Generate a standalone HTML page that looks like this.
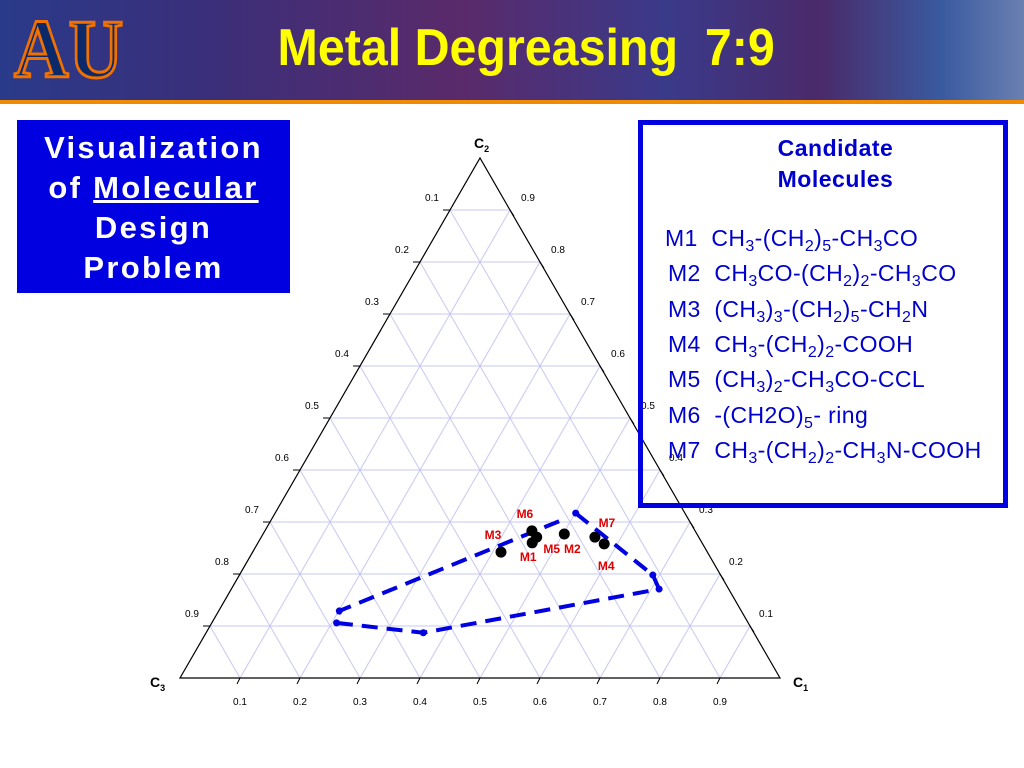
<!DOCTYPE html>
<html><head><meta charset="utf-8">
<style>
body{margin:0;width:1024px;height:768px;overflow:hidden;background:#fff;font-family:"Liberation Sans",sans-serif;}
#hdr{position:absolute;left:0;top:0;width:1024px;height:100px;background:linear-gradient(90deg,#2a3a8a 0%,#3a2f7a 20%,#5a2a6a 45%,#3a3a8a 65%,#4a2a6a 80%,#3a5aa0 92%,#6a80b0 100%);}
#bar{position:absolute;left:0;top:100px;width:1024px;height:4px;background:#f08a00;}
#title{position:absolute;left:188px;top:18px;width:650px;text-align:center;font-weight:bold;font-size:52px;color:#ffff00;transform:scaleX(0.93);transform-origin:513px 0;}
#logo{position:absolute;left:14px;top:4px;font-family:"Liberation Serif",serif;font-weight:bold;font-size:84px;color:#0c2a6a;-webkit-text-stroke:3px #f07000;line-height:92px;transform:scaleX(0.9);transform-origin:0 0;}
#lbox{position:absolute;left:17px;top:120px;width:273px;height:173px;background:#0000e0;color:#fff;font-weight:bold;font-size:31px;letter-spacing:2.3px;text-align:center;line-height:40px;box-sizing:border-box;padding-top:8px;}
#rbox{position:absolute;left:638px;top:120px;width:370px;height:388px;border:5px solid #0000e0;box-sizing:border-box;color:#0000cc;}
#rbox .t{font-weight:bold;font-size:23px;text-align:center;line-height:31px;margin-top:8px;padding-left:25px;letter-spacing:0.5px;}
#rbox .l{position:absolute;left:25px;font-size:23px;letter-spacing:0.4px;white-space:nowrap;}
sub{font-size:16px;vertical-align:-5px;line-height:0;}
</style></head><body>
<div id="hdr"></div>
<div id="logo">AU</div>
<div id="title">Metal Degreasing&nbsp; 7:9</div>
<div id="bar"></div>
<svg id="chart" style="position:absolute;left:0;top:0" width="1024" height="768"></svg>
<div id="lbox">Visualization<br>of <u>Molecular</u><br>Design<br>Problem</div>
<div id="rbox">
<div class="t">Candidate<br>Molecules</div>
<div class="l" style="top:100px;left:22px">M1&nbsp; CH<sub>3</sub>-(CH<sub>2</sub>)<sub>5</sub>-CH<sub>3</sub>CO</div>
<div class="l" style="top:135px">M2&nbsp; CH<sub>3</sub>CO-(CH<sub>2</sub>)<sub>2</sub>-CH<sub>3</sub>CO</div>
<div class="l" style="top:171px">M3&nbsp; (CH<sub>3</sub>)<sub>3</sub>-(CH<sub>2</sub>)<sub>5</sub>-CH<sub>2</sub>N</div>
<div class="l" style="top:206px">M4&nbsp; CH<sub>3</sub>-(CH<sub>2</sub>)<sub>2</sub>-COOH</div>
<div class="l" style="top:241px">M5&nbsp; (CH<sub>3</sub>)<sub>2</sub>-CH<sub>3</sub>CO-CCL</div>
<div class="l" style="top:277px">M6&nbsp; -(CH2O)<sub>5</sub>- ring</div>
<div class="l" style="top:312px">M7&nbsp; CH<sub>3</sub>-(CH<sub>2</sub>)<sub>2</sub>-CH<sub>3</sub>N-COOH</div>
</div>
<script>
const ticks=[0.1,0.2,0.3,0.4,0.5,0.6,0.7,0.8,0.9];
const molNames=["M1","M2","M3","M4","M5","M6","M7"];
const molC1=[0.457,0.502,0.414,0.578,0.459,0.445,0.556];
const molC2=[0.26,0.277,0.242,0.258,0.271,0.283,0.271];
const regionC1=[0.501,0.689,0.713,0.362,0.208,0.201,0.482];
const regionC2=[0.317,0.198,0.171,0.087,0.106,0.129,0.302];
const X0=180,Y0=678,S=600,H=520;
function px(c1,c2){return X0+S*(c1+c2/2);}
function py(c2){return Y0-H*c2;}
const svg=document.getElementById('chart');const NS='http://www.w3.org/2000/svg';
function mk(t,a,txt){const e=document.createElementNS(NS,t);for(const k in a)e.setAttribute(k,a[k]);if(txt!==undefined)e.textContent=txt;svg.appendChild(e);return e;}
ticks.forEach(t=>{
 let g=mk('line',{x1:px(0,t),y1:py(t),x2:px(1-t,t),y2:py(t),stroke:'#c8c8f0','stroke-width':1});
 
 g=mk('line',{x1:px(t,0),y1:py(0),x2:px(t,1-t),y2:py(1-t),stroke:'#c8c8f0','stroke-width':1});
 
 g=mk('line',{x1:px(t,0),y1:py(0),x2:px(0,t),y2:py(t),stroke:'#c8c8f0','stroke-width':1});
 
});
let tri=mk('polygon',{points:`${px(0,0)},${py(0)} ${px(1,0)},${py(0)} ${px(0,1)},${py(1)}`,fill:'none',stroke:'#000','stroke-width':1.2});

ticks.forEach(t=>{
 const bx=px(t,0);
 mk('line',{x1:bx,y1:Y0,x2:bx-3,y2:Y0+6,stroke:'#000'});
 let l=mk('text',{x:bx,y:705,'font-size':10,'text-anchor':'middle'},t.toFixed(1));
 
 const lx=px(0,1-t),ly=py(1-t);
 mk('line',{x1:lx,y1:ly,x2:lx-7,y2:ly,stroke:'#000'});
 l=mk('text',{x:lx-18,y:ly-9,'font-size':10,'text-anchor':'middle'},t.toFixed(1));
 
 const rx=px(t,1-t),ry=py(1-t);
 mk('line',{x1:rx,y1:ry,x2:rx+4,y2:ry+6,stroke:'#000'});
 l=mk('text',{x:rx+(rx<640?18:16),y:ry-9,'font-size':10,'text-anchor':'middle'},(1-t).toFixed(1));
 
});
[['C',"2",474,148,'c2-label'],['C',"3",150,687,'c3-label'],['C',"1",793,687,'c1-label']].forEach(a=>{
 const t=mk('text',{x:a[2],y:a[3],'font-size':14,'font-weight':'bold'});t.textContent=a[0];
 const s=document.createElementNS(NS,'tspan');s.setAttribute('font-size',9);s.setAttribute('dy',4);s.textContent=a[1];t.appendChild(s);
 
});
let pts=regionC1.map((c,i)=>px(c,regionC2[i])+','+py(regionC2[i])).join(' ');
let reg=mk('polyline',{points:pts,fill:'none',stroke:'#0000e0','stroke-width':4,'stroke-dasharray':'16,9'});

regionC1.slice(0,6).forEach((c,i)=>{const d=mk('circle',{cx:px(c,regionC2[i]),cy:py(regionC2[i]),r:3.5,fill:'#0000e0'});
 });
const off={M1:[-4,18],M2:[8,19],M3:[-8,-13],M4:[2,26],M5:[15,16],M6:[-7,-13],M7:[12,-10]};
molNames.forEach((n,i)=>{
 const x=px(molC1[i],molC2[i]),y=py(molC2[i]);
 const c=mk('circle',{cx:x,cy:y,r:5.5,fill:'#000'});
 
 const o=off[n];
 const t=mk('text',{x:x+o[0],y:y+o[1],'font-size':12,'font-weight':'bold',fill:'#e00000','text-anchor':'middle'},n);
 
});
</script>
</body></html>
